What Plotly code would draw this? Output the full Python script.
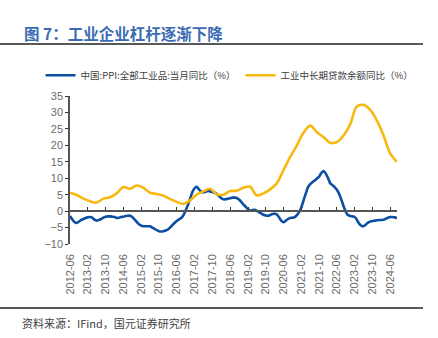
import pandas as pd
import plotly.graph_objects as go

# ---- data ----
ppi_start = "2012-06-01"
ppi_yoy = [
    -1.5, -2.5, -3.3, -3.6, -3.2, -2.7, -2.4,
    -2.1, -1.9, -1.8, -2.0, -2.6, -2.9, -2.7, -2.4, -2.0, -1.7, -1.6, -1.6,
    -1.7, -1.8, -2.1, -2.0, -1.8, -1.7, -1.5, -1.4, -1.4, -1.8, -2.5, -3.3,
    -4.0, -4.4, -4.6, -4.6, -4.6, -4.6, -5.0, -5.4, -5.8, -6.1, -6.2, -6.1,
    -5.9, -5.6, -5.0, -4.3, -3.6, -3.0, -2.5, -2.1, -1.2, 0.2, 1.9, 3.8,
    5.8, 7.0, 7.4, 6.6, 5.9, 5.7, 5.9, 6.1, 6.0, 5.8, 5.6, 5.2,
    4.6, 3.9, 3.6, 3.6, 3.8, 3.9, 4.1, 4.1, 4.0, 3.5, 2.8, 2.0,
    1.3, 0.6, 0.2, 0.3, 0.4, 0.1, -0.3, -0.7, -1.1, -1.3, -1.4, -1.2,
    -0.9, -0.8, -1.0, -1.9, -2.9, -3.4, -2.9, -2.4, -2.1, -2.0, -1.8, -1.2,
    -0.3, 1.2, 3.2, 5.3, 7.2, 8.2, 8.8, 9.3, 9.9, 10.5, 11.6, 12.2,
    11.4, 10.0, 8.5, 7.9, 7.3, 6.5, 5.3, 3.5, 1.5, -0.2, -1.2, -1.5,
    -1.6, -1.8, -2.6, -3.8, -4.4, -4.6, -4.1, -3.5, -3.2, -3.0, -2.9, -2.8,
    -2.7, -2.7, -2.6, -2.3, -2.0, -1.8, -1.8, -1.9, -2.1,
]
loan_start = "2012-06-01"
loan_yoy = [
    5.6, 4.9, 3.8, 3.0, 2.6, 3.8, 4.2, 5.4, 7.3, 6.8, 7.8, 7.1,
    5.6, 5.2, 4.7, 3.7, 2.8, 2.2, 3.3, 5.0, 6.0, 6.8, 5.1, 5.0,
    6.1, 6.2, 7.1, 7.4, 4.8, 5.4, 6.6, 8.5, 12.5, 16.5, 20.0, 23.8,
    26.0, 24.0, 22.5, 20.8, 21.0, 23.0, 26.4, 31.8, 32.3, 30.8, 27.5, 23.0,
    17.5, 15.0,
]
tick_labels = [
    "2012-06", "2013-02", "2013-10", "2014-06", "2015-02", "2015-10",
    "2016-06", "2017-02", "2017-10", "2018-06", "2019-02", "2019-10",
    "2020-06", "2021-02", "2021-10", "2022-06", "2023-02", "2023-10", "2024-06",
]
name_ppi = "中国:PPI:全部工业品:当月同比（%）"
name_loan = "工业中长期贷款余额同比（%）"
title_text = "图 7：工业企业杠杆逐渐下降"
source_text = "资料来源：IFind，国元证券研究所"

ppi_dates = pd.date_range(ppi_start, periods=len(ppi_yoy), freq="MS")
loan_dates = pd.date_range(loan_start, periods=len(loan_yoy), freq="3MS")
tick_vals = pd.to_datetime(tick_labels)
x_range = [ppi_dates[0], ppi_dates[-1]]

BLUE = "#0c4ea3"
YELLOW = "#f7b90f"
GRAY = "#6b6b6b"
CJK = "Noto Sans CJK SC"

fig = go.Figure()
fig.add_trace(go.Scatter(x=ppi_dates, y=ppi_yoy, name=name_ppi, mode="lines",
                         line=dict(color=BLUE, width=2.6, shape="spline", smoothing=0.8)))
fig.add_trace(go.Scatter(x=loan_dates, y=loan_yoy, name=name_loan, mode="lines",
                         line=dict(color=YELLOW, width=2.6, shape="spline", smoothing=1.0)))
# invisible trace to carry the zero-line axis
fig.add_trace(go.Scatter(x=x_range, y=[0, 0], xaxis="x2", yaxis="y", mode="lines",
                         line=dict(width=0), showlegend=False, hoverinfo="skip"))

ymin, ymax = -10, 35
W, H = 438, 338
ml, mr, mt, mb = 70, 41, 96, 94
plot_w = W - ml - mr
plot_h = H - mt - mb
zero_pos = (0 - ymin) / (ymax - ymin)

fig.update_layout(
    width=W, height=H,
    margin=dict(l=ml, r=mr, t=mt, b=mb),
    paper_bgcolor="white", plot_bgcolor="white",
    font=dict(family="Liberation Sans, Arial, sans-serif", color=GRAY, size=11),
    xaxis=dict(type="date", range=x_range, tickvals=tick_vals, ticktext=tick_labels,
               tickangle=-90, showgrid=False, zeroline=False, showline=False,
               ticks="", ticklabelstandoff=7, tickfont=dict(size=11, color=GRAY)),
    xaxis2=dict(type="date", range=x_range, overlaying="x", anchor="free",
                position=zero_pos, side="bottom", tickvals=tick_vals,
                showticklabels=False, ticks="inside", ticklen=3, tickwidth=1,
                tickcolor="#333", showline=True, linecolor="#555", linewidth=1.5,
                showgrid=False, zeroline=False),
    yaxis=dict(range=[ymin, ymax], dtick=5, showgrid=False, zeroline=False,
               showline=True, linecolor="#555", linewidth=1.5, ticks="outside",
               ticklen=3, tickcolor="#333", tickfont=dict(size=11, color=GRAY)),
    legend=dict(orientation="h", x=-0.09, xanchor="left", y=1.14, yanchor="middle",
                font=dict(family=CJK, size=9.5, color="#404040"),
                itemwidth=30, tracegroupgap=0, bgcolor="rgba(0,0,0,0)"),
    showlegend=True,
)

# title, rules and source
fig.add_annotation(xref="paper", yref="paper", x=(22 - ml) / plot_w,
                   y=1 + (mt - 33) / plot_h, xanchor="left", yanchor="middle",
                   text="<b>" + title_text + "</b>", showarrow=False,
                   font=dict(family=CJK, size=15.5, color="#3b6cb3"))
fig.add_shape(type="line", xref="paper", yref="paper",
              x0=-ml / plot_w, x1=(423 - ml) / plot_w,
              y0=1 + (mt - 44) / plot_h, y1=1 + (mt - 44) / plot_h,
              line=dict(color="#222", width=1.5))
fig.add_shape(type="line", xref="paper", yref="paper",
              x0=-ml / plot_w, x1=(423 - ml) / plot_w,
              y0=-(308 - (H - mb)) / plot_h, y1=-(308 - (H - mb)) / plot_h,
              line=dict(color="#222", width=1.5))
fig.add_annotation(xref="paper", yref="paper", x=(20 - ml) / plot_w,
                   y=-(323 - (H - mb)) / plot_h, xanchor="left", yanchor="middle",
                   text=source_text, showarrow=False,
                   font=dict(family=CJK, size=11, color="#404040"))

fig.write_html("out.html")
